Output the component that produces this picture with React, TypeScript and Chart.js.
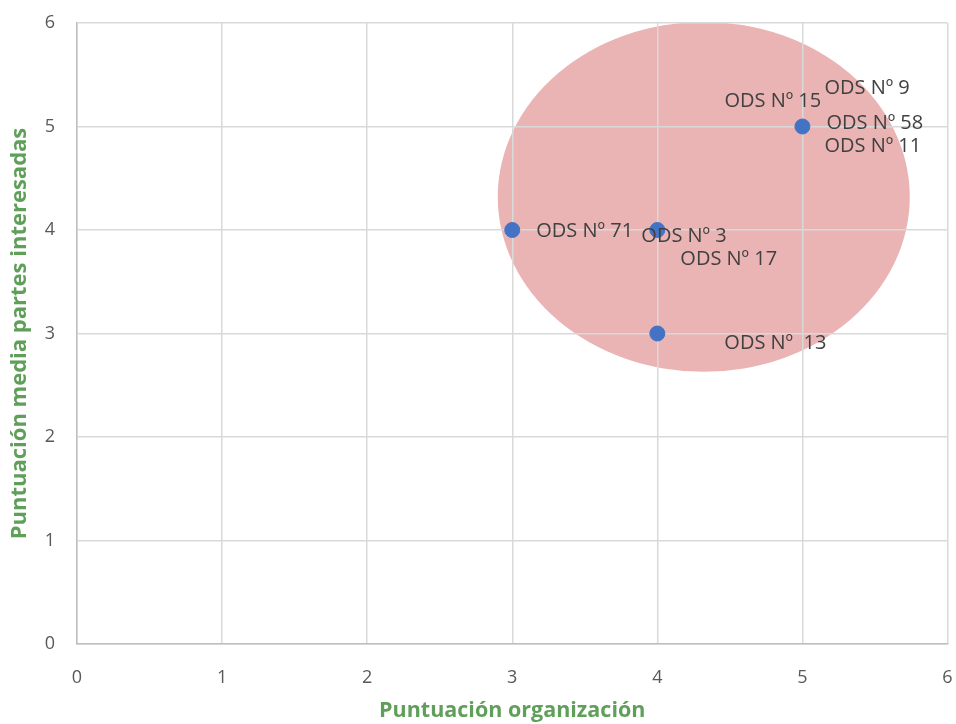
import React, { useEffect, useRef } from "react";
import { Chart, registerables } from "chart.js";

Chart.register(...registerables);

const xValues = [3, 4, 4, 5];
const yValues = [4, 4, 3, 5];
const pointLabels = [
  { text: "ODS Nº 71", point: 0 },
  { text: "ODS Nº 3", point: 1 },
  { text: "ODS Nº 17", point: 1 },
  { text: "ODS Nº  13", point: 2 },
  { text: "ODS Nº 9", point: 3 },
  { text: "ODS Nº 15", point: 3 },
  { text: "ODS Nº 58", point: 3 },
  { text: "ODS Nº 11", point: 3 },
];
// pixel offsets of each label's left edge / middle from its point
const labelOffsets = [
  [24, 1],
  [-16, 6],
  [23, 29],
  [67, 10],
  [22, -38],
  [-78, -25],
  [24, -3],
  [22, 20],
];
const ellipse = { cx: 4.32, cy: 4.32, rx: 1.42, ry: 1.69 };
const xTitle = "Puntuación organización";
const yTitle = "Puntuación media partes interesadas";

const FONT = "'Open Sans', 'Noto Sans', sans-serif";

const ellipsePlugin = {
  id: "ellipseShape",
  beforeDraw(chart: any) {
    const { ctx, scales } = chart;
    const x = scales.x, y = scales.y;
    const cx = x.getPixelForValue(ellipse.cx);
    const cy = y.getPixelForValue(ellipse.cy);
    const rx = Math.abs(x.getPixelForValue(ellipse.cx + ellipse.rx) - cx);
    const ry = Math.abs(y.getPixelForValue(ellipse.cy + ellipse.ry) - cy);
    ctx.save();
    ctx.fillStyle = "#EBB4B4";
    ctx.beginPath();
    ctx.ellipse(cx, cy, rx, ry, 0, 0, Math.PI * 2);
    ctx.fill();
    ctx.restore();
  },
};

const labelPlugin = {
  id: "pointLabels",
  afterDatasetsDraw(chart: any) {
    const { ctx } = chart;
    const meta = chart.getDatasetMeta(0);
    ctx.save();
    ctx.font = `20px ${FONT}`;
    ctx.fillStyle = "#404040";
    ctx.textAlign = "left";
    ctx.textBaseline = "middle";
    pointLabels.forEach((l, i) => {
      const el = meta.data[l.point];
      if (!el) return;
      ctx.fillText(l.text, el.x + labelOffsets[i][0], el.y + labelOffsets[i][1]);
    });
    ctx.restore();
  },
};

export default function App() {
  const ref = useRef<HTMLCanvasElement | null>(null);
  useEffect(() => {
    if (!ref.current) return;
    const chart = new Chart(ref.current, {
      type: "scatter",
      data: {
        datasets: [
          {
            data: xValues.map((x, i) => ({ x, y: yValues[i] })),
            backgroundColor: "#4472C4",
            borderColor: "#4472C4",
            pointRadius: 7.5,
            pointHoverRadius: 7.5,
          },
        ],
      },
      options: {
        animation: false,
        responsive: true,
        maintainAspectRatio: false,
        layout: { padding: { top: 23, right: 4, left: 0, bottom: 0 } },
        plugins: { legend: { display: false }, tooltip: { enabled: false } },
        scales: {
          x: {
            type: "linear",
            min: 0,
            max: 6,
            ticks: { stepSize: 1, color: "#595959", font: { family: FONT, size: 18 }, padding: 23 },
            grid: { color: "#D9D9D9", drawTicks: false, lineWidth: 1.5 },
            border: { color: "#BFBFBF", width: 1.5 },
            title: {
              display: true,
              text: xTitle,
              color: "#609F5A",
              font: { family: FONT, size: 21.5, weight: "bold" },
              padding: { top: 0, bottom: 0 },
            },
            afterFit(s: any) {
              s.height = 80;
              s.paddingLeft = 0;
              s.paddingRight = 0;
            },
          },
          y: {
            type: "linear",
            min: 0,
            max: 6,
            ticks: { stepSize: 1, color: "#595959", font: { family: FONT, size: 18 }, padding: 22 },
            grid: { color: "#D9D9D9", drawTicks: false, lineWidth: 1.5 },
            border: { color: "#BFBFBF", width: 1.5 },
            title: {
              display: true,
              text: yTitle,
              color: "#609F5A",
              font: { family: FONT, size: 22, weight: "bold" },
              padding: { top: 7, bottom: 0 },
            },
            afterFit(s: any) {
              s.width = 77;
              s.paddingTop = 0;
              s.paddingBottom = 0;
            },
          },
        },
      },
      plugins: [ellipsePlugin, labelPlugin],
    });
    return () => chart.destroy();
  }, []);
  return (
    <div style={{ position: "fixed", left: 0, top: 0, width: 956, height: 724, background: "#fff" }}>
      <canvas ref={ref} />
    </div>
  );
}
